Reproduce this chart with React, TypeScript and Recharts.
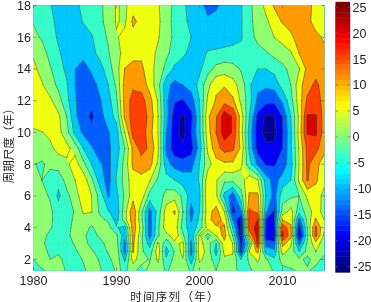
import React from 'react';
import { ScatterChart, Scatter, XAxis, YAxis, ReferenceArea } from 'recharts';

const years = [1980,1981,1982,1983,1984,1985,1986,1987,1988,1989,1990,1991,1992,1993,1994,1995,1996,1997,1998,1999,2000,2001,2002,2003,2004,2005,2006,2007,2008,2009,2010,2011,2012,2013,2014,2015];
const periods = [1.3,2,2.5,3,3.5,4,4.5,5,6,7,8,9,10,11,12,13,14,15,16,17,18];
const xTicks = [1980,1990,2000,2010];
const yTicks = [2,4,6,8,10,12,14,16,18];
const barTicks = [25,20,15,10,5,0,-5,-10,-15,-20,-25];
const levels = [-100,-20,-15,-10,-5,0,5,10,15,20];
const bandColors = ['#00008f','#0000f5','#0060ff','#00c8ff','#38fcc8','#90ff70','#f0ff10','#ff9a00','#ff4000','#d80000'];
const barLevels = [-26,-25,-24,-23,-22,-21,-20,-19,-18,-17,-16,-15,-14,-13,-12,-11,-10,-9,-8,-7,-6,-5,-4,-3,-2,-1,0,1,2,3,4,5,6,7,8,9,10,11,12,13,14,15,16,17,18,19,20,21,22,23,24,25];

const p013 = [-2,-0.3,0.5,2,-0.5,-3,-1,2,0.5,-2,0.5,-0.5,1.5,-2,1.5,2,-0.5,1.5,2,-0.5,2,2,0,2,2,-2,-1,2,2,-0.5,-1.5,-0.5,0.5,0.5,-1.5,-2.5];
const p020 = [0,1.5,0,1.5,-2,-3,0.5,2,-0.5,-1.5,3,-6,7,2,-0.5,6,-4,1.5,4.5,-8,6,3,-3,4,4,-5,1,6,1,-4,2,2,1,-1,2,-1.5];
const p025 = [2.5,1,-0.5,-1,-2.5,-1,2.5,1,-3,0.5,3.5,-12,10.5,1,-3,8,-7,0.5,7,-12,8,3,-7,6.5,5.5,-17,5.5,11,-7,-9,7,3,-5,1.5,5,1.5];
const p030 = [3.5,1,-2,-2.5,-2,0.5,3,-2.5,-2,2,2,-11.5,11,1,-7,6,-3.5,3.5,6,-11,7,2,-5,8.5,5,-17,-3,20,-12,-13,12,6,-12,1,8,2];
const p035 = [3,2,-1.5,-3,-1,1.5,1,-2,1,3.2,1,-8,12,1.5,-12,-0.5,3,8,1,-8,6,-2,5,12,0,-21,11,22,-19,-21,21,12,-22,-1,16.5,4];
const p040 = [3,2.5,0.5,-2,-1.5,1.5,3,-1,3,2,-4.5,-7,13,3,-12.5,-1,8,8,-2,-8,-3,7,9.5,10.5,-5,-21,17,22,-15.5,-18,19,11,-18,0,16,6];
const p045 = [2.7,2.2,0.8,-2,-2,1,3.5,3,1.5,-1,-7,3,13,1,-12,-2,7.5,9,-1,-10.5,-4,9,11.5,9,-10,-20.5,17,20,-15.5,-16,10,8.5,-12,1.5,10.5,5];
const p050 = [2.5,2,1,-2.5,-2.5,0.5,5.5,5.2,-1,-4.5,-8,3,14,1,-12,-3,7.5,10.5,0,-12,-5,8,12,5,-17,-11,16,14,-9,-16,2,7,-3,2,8,3];
const p060 = [2.5,1.5,-0.5,-6,-1.5,3,7.5,5,-2,-10.5,-6.5,1,8,8,-2,-3.5,2,3,-1,-8,-6,9.5,6,-6.5,-13,-2,10.5,11,-5,-12,-2,-1,0,6,7,4];
const p070 = [1.5,0,-2,-3.5,2,5,8,1,-7.5,-12,-4.5,2,8,8.5,5.5,-1,-3,-5,-7,-8,-4.5,8,5.5,1,1.5,3,8,5.5,-7.5,-12,-8,-5,6,15.5,11,6];
const p080 = [0.2,-0.5,1,2.5,4,7.5,1.5,-5,-9.5,-11.5,-6,2,11,12.5,12,4,-8,-12,-13,-12,-5,3,8,9,9,6,-3,-11,-15.5,-15.5,-13,-7,5,16,12,7];
const p090 = [1.5,2,4,6.5,6.5,3,-5,-9.5,-12.5,-11,-7.5,0,11.5,17,14,6,-11.5,-18,-19,-17,-8,6,13,17,16,9,-6,-17,-19,-19,-15,-6,5.5,16.5,16.5,12];
const p100 = [3.5,4.8,6,6.5,2,-6.5,-11,-13,-13,-10.5,-7,5,17,18,12,5,-10,-18,-22,-15,-6,8,15,23,19.5,7,-7,-18,-21.5,-21.5,-15.5,-6,7,20.5,21,13];
const p110 = [9.5,9,8,6,0,-9,-13,-16,-12,-7.5,-3.5,11,17.5,18,13.5,5,-8,-18,-21,-16.5,-6,9,14.5,23,19.5,8,-5,-16.5,-21,-20.5,-15,-5,6,20.5,20.5,13];
const p120 = [9,8,6,2,-3.5,-9.5,-13,-13.5,-10.5,-7,-1,12,17,17,12,4.5,-9,-14.5,-15.5,-12.5,-5,6,10.5,13,11,4,-3,-11,-13.5,-14,-9,-2,7.5,16,16.5,14];
const p130 = [7.5,5.5,2,-1,-4.5,-10,-12.5,-12.5,-8.5,-5,1,12,14,13,8,2,-8.5,-11.5,-10,-8,-3.5,3.5,9,9.5,7,3,-4,-9,-9,-8,-3,0,8,13,16,13];
const p140 = [6,3.5,0.5,-3,-6,-10,-12.5,-9,-7,-2.5,3,10.2,12,11,7,3,-1.5,-6,-7.5,-9,-6,-2,1.5,2.5,2,-0.5,-3.5,-5,-5,-3.5,-1.5,1.5,4.5,11.5,13,12];
const p150 = [4.5,2,-1.5,-4.5,-6.5,-7.5,-8,-6.5,-3.5,-0.5,3.5,6.5,8,9,7,4,1,-2,-4,-6.5,-7,-4.5,-4,-3.5,-3.5,-3.5,-2.5,-1.5,-0.5,1.5,3,4.5,10,11.5,12,11];
const p160 = [1,-0.5,-3.5,-5.5,-7,-7,-6.5,-5.5,-2,0.5,4.5,6.5,8,9,8.5,5.5,2,-1,-3,-5,-7,-8,-8,-7.5,-6.5,-5.5,-1.5,1,3.5,5,6.5,9,12,12,11,9.5];
const p170 = [-0.3,-2,-4,-6,-7.5,-6.5,-4.8,-3,-1,1.5,5.5,4,11,8.5,8,6,2,-1.5,-4,-6,-8,-9.5,-9,-8.5,-7,-5.5,-1,1.5,4,7.5,10.5,12,12,11,8.5,7];
const p180 = [-3,-4,-4.7,-7,-8,-6,-4,-2.5,-1,2,5.5,4,8,8,7,5.5,2,-1,-4,-7,-9,-11,-10.5,-9,-7,-5.5,-1,2,6.5,10.5,12,12,12,11,9,7];
const rows = [p013,p020,p025,p030,p035,p040,p045,p050,p060,p070,p080,p090,p100,p110,p120,p130,p140,p150,p160,p170,p180];

const PLOT = { left: 33.5, right: 324, top: 5.5, bottom: 270.5 };
const pxX = (PLOT.right - PLOT.left) / (years[years.length - 1] - years[0]);
const pxY = (PLOT.bottom - PLOT.top) / (periods[periods.length - 1] - periods[0]);
const FONT = '"Liberation Sans", Arial, sans-serif';
const CJK = '"Noto Sans CJK SC", sans-serif';
const INK = '#222';
const TICK = '#666';

type Cell = { year: number; period: number; dy: number; v: number[] };
const cells: Cell[] = [];
for (let r = 0; r < periods.length - 1; r++) {
  for (let c = 0; c < years.length - 1; c++) {
    cells.push({
      year: years[c],
      period: periods[r],
      dy: periods[r + 1] - periods[r],
      v: [rows[r][c], rows[r][c + 1], rows[r + 1][c + 1], rows[r + 1][c]],
    });
  }
}

type P = [number, number, number];
function corners(cx: number, cy: number, d: Cell): P[] {
  const w = pxX;
  const h = d.dy * pxY;
  return [[cx, cy, d.v[0]], [cx + w, cy, d.v[1]], [cx + w, cy - h, d.v[2]], [cx, cy - h, d.v[3]]];
}
function clipAbove(poly: P[], level: number): { poly: P[]; seg: [number, number][] } {
  const out: P[] = [];
  const seg: [number, number][] = [];
  for (let i = 0; i < poly.length; i++) {
    const a = poly[i];
    const b = poly[(i + 1) % poly.length];
    const ai = a[2] >= level;
    const bi = b[2] >= level;
    if (ai) out.push(a);
    if (ai !== bi) {
      const t = (level - a[2]) / (b[2] - a[2]);
      const q: P = [a[0] + t * (b[0] - a[0]), a[1] + t * (b[1] - a[1]), level];
      out.push(q);
      seg.push([q[0], q[1]]);
    }
  }
  return { poly: out, seg };
}
const toPath = (poly: { 0: number; 1: number }[]) =>
  poly.map((p, i) => `${i ? 'L' : 'M'}${p[0].toFixed(2)} ${p[1].toFixed(2)}`).join('') + 'Z';

const bandShape = (index: number) => (props: any) => {
  const { poly } = clipAbove(corners(props.cx, props.cy, props.payload), levels[index]);
  if (poly.length < 3) return <g />;
  return <path d={toPath(poly)} fill={bandColors[index]} stroke={bandColors[index]} strokeWidth={0.5} strokeLinejoin="round" />;
};
const LINE = { stroke: '#2c4a3c', strokeOpacity: 0.7, strokeWidth: 0.7, strokeLinecap: 'round' as const };
const LineShape = (props: any) => {
  const base = corners(props.cx, props.cy, props.payload);
  const parts: React.ReactNode[] = [];
  levels.slice(1).forEach((lv, i) => {
    const { seg } = clipAbove(base, lv);
    for (let k = 0; k + 1 < seg.length; k += 2) {
      parts.push(<line key={`${i}-${k}`} x1={seg[k][0]} y1={seg[k][1]} x2={seg[k + 1][0]} y2={seg[k + 1][1]} {...LINE} />);
    }
  });
  return <g>{parts}</g>;
};

const XTick = ({ x, payload }: any) => (
  <g>
    <line x1={x} x2={x} y1={PLOT.bottom} y2={PLOT.bottom - 3} stroke={TICK} strokeWidth={0.7} />
    <line x1={x} x2={x} y1={PLOT.top} y2={PLOT.top + 3} stroke={TICK} strokeWidth={0.7} />
    <text x={x} y={285} textAnchor="middle" fontFamily={FONT} fontSize={12.5} fill={INK}>{payload.value}</text>
  </g>
);
const YTick = ({ y, payload }: any) => (
  <g>
    <line x1={PLOT.left} x2={PLOT.left + 3} y1={y} y2={y} stroke={TICK} strokeWidth={0.7} />
    <line x1={PLOT.right} x2={PLOT.right - 3} y1={y} y2={y} stroke={TICK} strokeWidth={0.7} />
    <text x={31} y={y + 4.5} textAnchor="end" fontFamily={FONT} fontSize={12.5} fill={INK}>{payload.value}</text>
  </g>
);
const BarTick = ({ y, payload }: any) => (
  <g>
    <line x1={335.5} x2={338} y1={y} y2={y} stroke={TICK} strokeWidth={0.7} />
    <line x1={350} x2={347.5} y1={y} y2={y} stroke={TICK} strokeWidth={0.7} />
    <text x={payload.value < 0 ? 353.5 : 352.5} y={y + 4.5} textAnchor="start" fontFamily={FONT} fontSize={12.5} fill={INK}>{payload.value}</text>
  </g>
);

function jet(v: number) {
  const t = Math.max(0, Math.min(1, (v + 25) / 50));
  const f = (c: number) => Math.round(255 * Math.max(0, Math.min(1, 1.5 - Math.abs(4 * t - c))));
  return `rgb(${f(3)},${f(2)},${f(1)})`;
}
const BarShape = (props: any) => {
  const v = props.payload.level;
  const h = 5.22;
  return <rect x={335.5} y={props.cy - h} width={14.5} height={h + 0.4} fill={jet(v + 0.5)} />;
};

const barData = barLevels.map((level) => ({ x: 0, level }));

export default function App() {
  return (
    <div style={{ position: 'fixed', left: 0, top: 0, width: 371, height: 302, background: '#fff', filter: 'blur(0.3px)' }}>
      <div style={{ position: 'absolute', left: 0, top: 0 }}>
        <ScatterChart width={371} height={302} margin={{ left: 0, right: 47, top: PLOT.top, bottom: 1.5 }}>
          <XAxis type="number" dataKey="year" domain={[1980, 2015]} ticks={xTicks} height={30} tick={<XTick />} tickLine={false} axisLine={false} interval={0}
            label={{ content: () => <text x={175} y={300.5} textAnchor="middle" fontFamily={CJK} fontSize={11.5} letterSpacing={1.3} fill={INK}>时间序列（年）</text> }} />
          <YAxis type="number" dataKey="period" domain={[1.3, 18]} ticks={yTicks} width={33.5} tick={<YTick />} tickLine={false} axisLine={false} interval={0}
            label={{ content: () => <text transform="translate(13,143) rotate(-90)" textAnchor="middle" fontFamily={CJK} fontSize={11.5} fill={INK}>周期尺度（年）</text> }} />
          {bandColors.map((c, i) => (
            <Scatter key={c} data={cells} shape={bandShape(i)} isAnimationActive={false} />
          ))}
          <Scatter data={cells} shape={<LineShape />} isAnimationActive={false} />
          <ReferenceArea x1={1980} x2={2015} y1={1.3} y2={18} fill="none" stroke="#9a9a9a" strokeWidth={1} ifOverflow="visible" />
        </ScatterChart>
      </div>
      <div style={{ position: 'absolute', left: 0, top: 0 }}>
        <ScatterChart width={371} height={302} margin={{ left: 335.5, right: 0, top: 5.5, bottom: 29.5 }}>
          <XAxis type="number" dataKey="x" domain={[0, 1]} hide />
          <YAxis type="number" dataKey="level" orientation="right" domain={[-26.1, 25.3]} ticks={barTicks} width={21} tick={<BarTick />} tickLine={false} axisLine={false} interval={0} />
          <Scatter data={barData} shape={<BarShape />} isAnimationActive={false} />
          <ReferenceArea x1={0} x2={1} y1={-26.1} y2={25.3} fill="none" stroke="#777" strokeWidth={0.8} ifOverflow="visible" />
        </ScatterChart>
      </div>
    </div>
  );
}
